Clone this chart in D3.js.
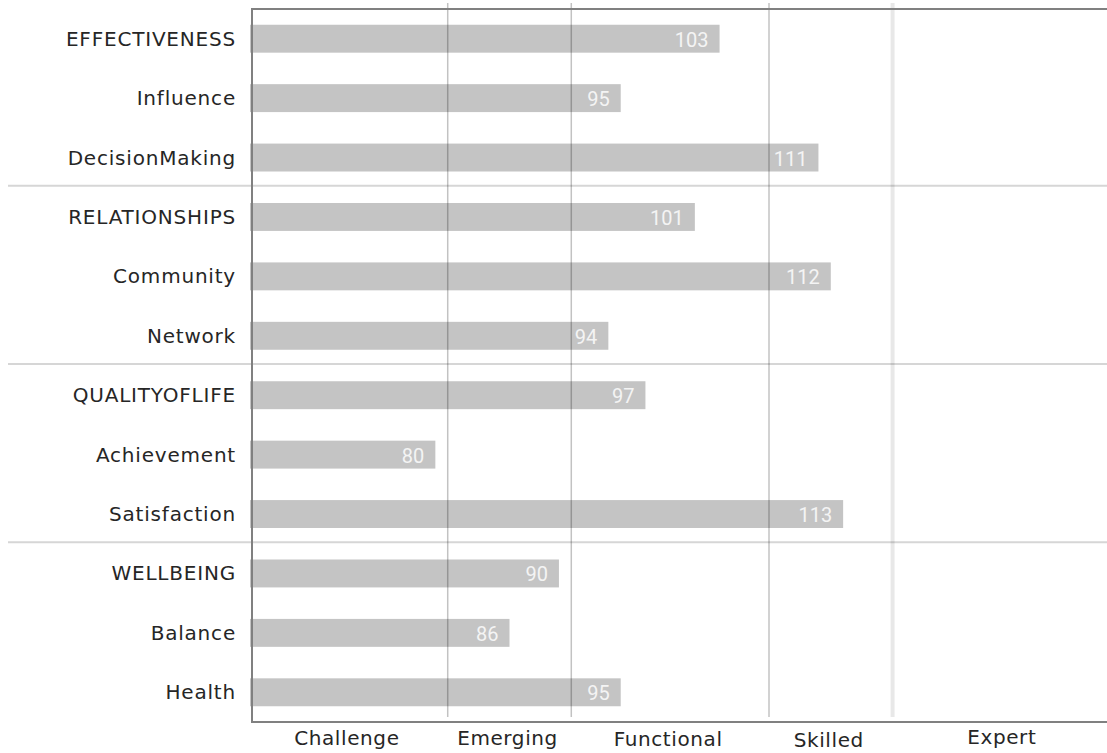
<!DOCTYPE html>
<html lang="en">
<head>
    <meta charset="UTF-8">
    <title>Competency Profile</title>
    <script src="https://d3js.org/d3.v7.min.js"></script>
    <style>
        body { margin: 0; background: #fff; }
        .row-label { font-family: "DejaVu Sans", Verdana, sans-serif; font-size: 20px; letter-spacing: 0.8px; fill: #262626; }
        .tier-label { font-family: "DejaVu Sans", Verdana, sans-serif; font-size: 20px; letter-spacing: 0.6px; fill: #262626; }
        .value-label { font-family: Roboto, "Liberation Sans", Arial, sans-serif; font-size: 20px; fill: #f4f4f4; }
    </style>
</head>
<body>
    <script>
        // rows, top to bottom
        const categories = ['EFFECTIVENESS', 'Influence', 'DecisionMaking',
            'RELATIONSHIPS', 'Community', 'Network',
            'QUALITYOFLIFE', 'Achievement', 'Satisfaction',
            'WELLBEING', 'Balance', 'Health'];
        const scores = [103, 95, 111, 101, 112, 94, 97, 80, 113, 90, 86, 95];

        // level bands along the score axis
        const tierNames = ['Challenge', 'Emerging', 'Functional', 'Skilled', 'Expert'];
        const tierBounds = [65, 81, 91, 107, 117, 135];

        // a separator line goes above these rows
        const groupStarts = ['RELATIONSHIPS', 'QUALITYOFLIFE', 'WELLBEING'];

        const width = 1107, height = 753;
        const plotLeft = 252, plotTop = 9, plotBottom = 722;
        // small vertical nudges of the tier labels as in the original
        const tierDy = [0, 0, 1, 2, -1];

        const svg = d3.select('body').append('svg')
            .attr('width', width)
            .attr('height', height);

        const x = d3.scaleLinear()
            .domain([tierBounds[0], tierBounds[tierBounds.length - 1]])
            .range([250, 1115]);

        const y = d3.scaleBand()
            .domain(categories)
            .range([plotTop, plotBottom])
            .paddingInner(0.53)
            .paddingOuter(0.265);

        const gap = y.step() - y.bandwidth();

        // group separators
        svg.selectAll('.sep')
            .data(groupStarts)
            .enter().append('line')
            .attr('class', 'sep')
            .attr('x1', 8)
            .attr('x2', width)
            .attr('y1', d => y(d) - gap / 2 - 1.5)
            .attr('y2', d => y(d) - gap / 2 - 1.5)
            .attr('stroke', '#d6d6d6')
            .attr('stroke-width', 2);

        // bars
        svg.selectAll('.bar')
            .data(categories)
            .enter().append('rect')
            .attr('class', 'bar')
            .attr('x', x(tierBounds[0]))
            .attr('y', d => y(d))
            .attr('width', (d, i) => x(scores[i]) - x(tierBounds[0]))
            .attr('height', y.bandwidth())
            .attr('fill', '#c4c4c4');

        // tier boundaries, drawn over the bars
        const inner = tierBounds.slice(1, -1);
        svg.selectAll('.grid')
            .data(inner)
            .enter().append('line')
            .attr('class', 'grid')
            .attr('x1', d => x(d))
            .attr('x2', d => x(d))
            .attr('y1', 3)
            .attr('y2', 717)
            .attr('stroke', (d, i) => i === inner.length - 1 ? 'rgba(0,0,0,0.09)' : 'rgba(0,0,0,0.24)')
            .attr('stroke-width', (d, i) => i === inner.length - 1 ? 4 : 1.5);

        // value labels inside the bar ends
        svg.selectAll('.value-label')
            .data(categories)
            .enter().append('text')
            .attr('class', 'value-label')
            .attr('x', (d, i) => x(scores[i]) - 11)
            .attr('y', d => y(d) + y.bandwidth() / 2 + 1)
            .attr('dy', '0.35em')
            .attr('text-anchor', 'end')
            .text((d, i) => scores[i]);

        // row labels
        svg.selectAll('.row-label')
            .data(categories)
            .enter().append('text')
            .attr('class', 'row-label')
            .attr('x', plotLeft - 16)
            .attr('y', d => y(d) + y.bandwidth() / 2)
            .attr('dy', '0.35em')
            .attr('text-anchor', 'end')
            .text(d => d);

        // frame: top, left and bottom
        const frame = d3.path();
        frame.moveTo(width, plotTop);
        frame.lineTo(plotLeft, plotTop);
        frame.lineTo(plotLeft, plotBottom);
        frame.lineTo(width, plotBottom);
        svg.append('path')
            .attr('d', frame.toString())
            .attr('fill', 'none')
            .attr('stroke', '#808080')
            .attr('stroke-width', 2);

        // tier names centred in each band
        svg.selectAll('.tier-label')
            .data(tierNames)
            .enter().append('text')
            .attr('class', 'tier-label')
            .attr('x', (d, i) => (x(tierBounds[i]) + x(tierBounds[i + 1])) / 2 - 2)
            .attr('y', (d, i) => 745 + tierDy[i])
            .attr('text-anchor', 'middle')
            .text(d => d);
    </script>
</body>
</html>
